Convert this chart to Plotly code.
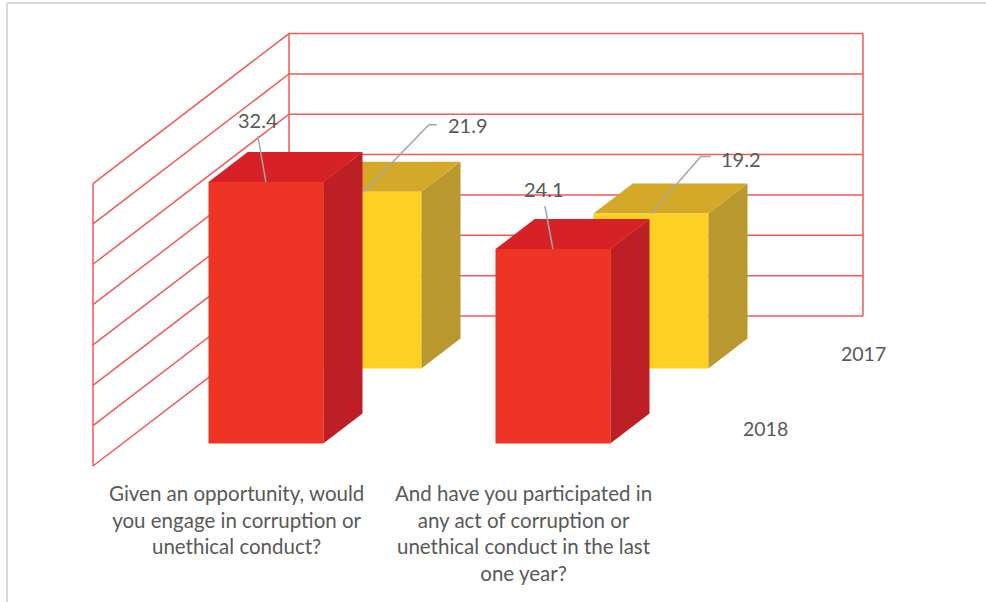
import plotly.graph_objects as go

# ---- data -------------------------------------------------------------
categories = [
    "Given an opportunity, would<br>you engage in corruption or<br>unethical conduct?",
    "And have you participated in<br>any act of corruption or<br>unethical conduct in the last<br>one year?",
]
series_names = ["2018", "2017"]          # front row first, back row second
values_2018 = [32.4, 24.1]
values_2017 = [21.9, 19.2]
value_ticks = [0, 5, 10, 15, 20, 25, 30, 35]

# ---- style ------------------------------------------------------------
W, H = 986, 602
PX_PER_CAT = 287.0          # horizontal pixels per category
PX_PER_VAL = 8.07           # vertical pixels per value unit
ORIGIN_X = 236.5            # pixel x of first category centre on front plane
ORIGIN_Y = 466.0            # pixel y of value 0 on front plane
DEPTH_DX_PX = 98.0          # oblique shift per depth row
DEPTH_DY_PX = 75.0

DX = DEPTH_DX_PX / PX_PER_CAT
DY = DEPTH_DY_PX / PX_PER_VAL

BAR_W = 0.40
BAR_D0, BAR_D1 = 0.30, 0.70
GRID_COLOR = "#F25A5A"
TEXT_COLOR = "#595959"
LEADER_COLOR = "#A6A6A6"
FONT = "Lato"

face_colors = {
    "2018": {"front": "#EE3424", "top": "#D62127", "side": "#BC1F26"},
    "2017": {"front": "#FED023", "top": "#D4A929", "side": "#B8982F"},
}
# data label placement, in pixels relative to the top-centre of the front face
label_text_off = {"2018": [(-8, -62), (-9, -60)], "2017": [(82, -67), (68, -55)]}
label_anchor = {"2018": "center", "2017": "left"}
leader_pts = {
    "2018": [[(-8, -46)], [(-8, -43)]],
    "2017": [[(65, -67), (73, -67)], [(50, -57), (60, -57)]],
}


def proj(x, d, v):
    """Oblique projection of (category x, depth, value) to axis units."""
    return x + d * DX, v + d * DY


def px(dx, dy):
    return dx / PX_PER_CAT, -dy / PX_PER_VAL


fig = go.Figure()


def add_poly(pts, color):
    xs, ys = zip(*[proj(*p) for p in pts])
    fig.add_trace(go.Scatter(
        x=list(xs) + [xs[0]], y=list(ys) + [ys[0]], mode="lines",
        fill="toself", fillcolor=color, line=dict(width=0, color=color),
        hoverinfo="skip", showlegend=False))


def add_line(pts, color, width):
    xs, ys = zip(*[proj(*p) for p in pts])
    fig.add_trace(go.Scatter(
        x=xs, y=ys, mode="lines", line=dict(color=color, width=width),
        hoverinfo="skip", showlegend=False))


# ---- walls and gridlines ---------------------------------------------
n_rows = len(series_names)
x_left, x_right = -0.5, len(categories) - 0.5
vmax = value_ticks[-1]
for t in value_ticks:
    add_line([(x_left, 0, t), (x_left, n_rows, t), (x_right, n_rows, t)], GRID_COLOR, 1.5)
add_line([(x_left, 0, 0), (x_left, 0, vmax)], GRID_COLOR, 1.5)
add_line([(x_left, n_rows, 0), (x_left, n_rows, vmax)], GRID_COLOR, 1.5)
add_line([(x_right, n_rows, 0), (x_right, n_rows, vmax)], GRID_COLOR, 1.5)

# ---- bars (back row first so the front row covers it) -----------------
series_values = {"2018": values_2018, "2017": values_2017}
annotations = []
for row in reversed(range(n_rows)):
    name = series_names[row]
    cols = face_colors[name]
    d0, d1 = row + BAR_D0, row + BAR_D1
    for i, v in enumerate(series_values[name]):
        x0, x1 = i - BAR_W / 2, i + BAR_W / 2
        add_poly([(x1, d0, 0), (x1, d1, 0), (x1, d1, v), (x1, d0, v)], cols["side"])
        add_poly([(x0, d0, v), (x1, d0, v), (x1, d1, v), (x0, d1, v)], cols["top"])
        add_poly([(x0, d0, 0), (x1, d0, 0), (x1, d0, v), (x0, d0, v)], cols["front"])

# ---- data labels with leader lines -----------------------------------
for row in range(n_rows):
    name = series_names[row]
    d0 = row + BAR_D0
    for i, v in enumerate(series_values[name]):
        bx, by = proj(i, d0, v)
        lx, ly = [bx], [by]
        for (ox, oy) in leader_pts[name][i]:
            ddx, ddy = px(ox, oy)
            lx.append(bx + ddx)
            ly.append(by + ddy)
        fig.add_trace(go.Scatter(x=lx, y=ly, mode="lines",
                                 line=dict(color=LEADER_COLOR, width=1.5),
                                 hoverinfo="skip", showlegend=False))
        tx, ty = label_text_off[name][i]
        annotations.append(dict(
            x=bx, y=by, xref="x", yref="y", text=f"{v:.1f}", showarrow=False,
            xanchor=label_anchor[name], yanchor="middle", xshift=tx, yshift=-ty,
            font=dict(family=FONT, size=20, color=TEXT_COLOR)))

# ---- category labels (front plane) -----------------------------------
for i, cat in enumerate(categories):
    cx, cy = proj(i, 0, 0)
    annotations.append(dict(
        x=cx, y=cy, xref="x", yref="y", text=cat, showarrow=False,
        xanchor="center", yanchor="top", yshift=-13,
        font=dict(family=FONT, size=20.5, color=TEXT_COLOR)))

# ---- series (depth) labels -------------------------------------------
for row, name in enumerate(series_names):
    sx, sy = proj(x_right, row + 0.5, 0)
    annotations.append(dict(
        x=sx, y=sy, xref="x", yref="y", text=name, showarrow=False,
        xanchor="center", yanchor="middle", xshift=49,
        font=dict(family=FONT, size=19.5, color=TEXT_COLOR)))

x_range = [-ORIGIN_X / PX_PER_CAT, (W - ORIGIN_X) / PX_PER_CAT]
y_range = [-(H - ORIGIN_Y) / PX_PER_VAL, ORIGIN_Y / PX_PER_VAL]

fig.update_layout(
    width=W, height=H, margin=dict(l=0, r=0, t=0, b=0),
    paper_bgcolor="white", plot_bgcolor="white",
    xaxis=dict(range=x_range, visible=False, fixedrange=True),
    yaxis=dict(range=y_range, visible=False, fixedrange=True),
    showlegend=False, hovermode=False,
    annotations=annotations,
    shapes=[
        dict(type="line", xref="paper", yref="paper", x0=7 / W, x1=7 / W,
             y0=0, y1=1 - 3 / H, line=dict(color="#DADADA", width=2)),
        dict(type="line", xref="paper", yref="paper", x0=7 / W, x1=1,
             y0=1 - 3 / H, y1=1 - 3 / H, line=dict(color="#DADADA", width=2)),
    ],
)

fig.write_html("out.html")
